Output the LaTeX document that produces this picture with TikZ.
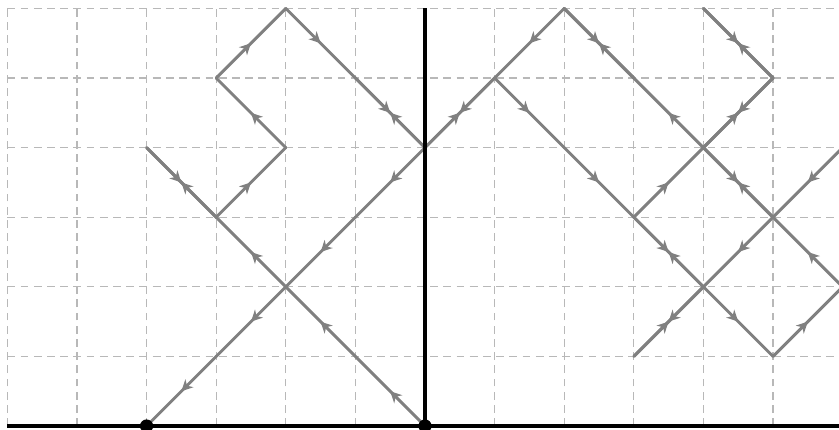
\documentclass[tikz,border=0pt]{standalone}
\usetikzlibrary{arrows.meta,decorations.markings}
\tikzset{
  gridline/.style={draw=black!28, line width=0.45pt, dash pattern=on 3.2pt off 2.2pt},
  seg/.style={draw=black!50, line width=1.2pt, line cap=round,
    postaction={decorate},
    decoration={markings, mark=at position 0.5 with {\arrow{Stealth[length=4.6pt,width=4.6pt,inset=1.4pt]}}}},
  axisline/.style={draw=black, line width=1.6pt},
  dot/.style={circle, fill=black, inner sep=0pt, minimum size=0.19cm}
}
\newcommand{\pathseg}[2]{\draw[seg] #1 -- #2;}
\newcommand{\bothseg}[2]{\draw[seg] #1 -- #2; \draw[seg] #2 -- #1;}
\begin{document}
\begin{tikzpicture}
\useasboundingbox (-6.106,-0.057) rectangle (5.948,6.121);
\clip (-6.106,-0.057) rectangle (5.948,6.121);
% grid
\foreach \x in {-6,...,6} \draw[gridline] (\x,0) -- (\x,6);
\foreach \y in {1,...,6} \draw[gridline] (-6,\y) -- (6.5,\y);
% left paths
\pathseg{(0,4)}{(-1,3)}
\pathseg{(-1,3)}{(-2,2)}
\pathseg{(-2,2)}{(-3,1)}
\pathseg{(-3,1)}{(-4,0)}
\pathseg{(0,0)}{(-1,1)}
\pathseg{(-1,1)}{(-2,2)}
\pathseg{(-2,2)}{(-3,3)}
\bothseg{(-3,3)}{(-4,4)}
\pathseg{(-3,3)}{(-2,4)}
\pathseg{(-2,4)}{(-3,5)}
\pathseg{(-3,5)}{(-2,6)}
\pathseg{(-2,6)}{(-1,5)}
\bothseg{(-1,5)}{(0,4)}
% right paths
\bothseg{(0,4)}{(1,5)}
\pathseg{(2,6)}{(1,5)}
\bothseg{(2,6)}{(3,5)}
\pathseg{(4,4)}{(3,5)}
\pathseg{(1,5)}{(2,4)}
\pathseg{(2,4)}{(3,3)}
\pathseg{(3,3)}{(4,4)}
\bothseg{(4,6)}{(5,5)}
\bothseg{(5,5)}{(4,4)}
\bothseg{(4,4)}{(5,3)}
\pathseg{(6,4)}{(5,3)}
\bothseg{(3,3)}{(4,2)}
\bothseg{(4,2)}{(3,1)}
\pathseg{(5,3)}{(4,2)}
\pathseg{(4,2)}{(5,1)}
\pathseg{(5,1)}{(6,2)}
\pathseg{(6,2)}{(5,3)}
% axes
\draw[axisline] (-6,0) -- (6.5,0);
\draw[axisline] (0,0) -- (0,6);
% dots
\node[dot] (a) at (-4,0) {};
\node[dot] (o) at (0,0) {};
\end{tikzpicture}
\end{document}
